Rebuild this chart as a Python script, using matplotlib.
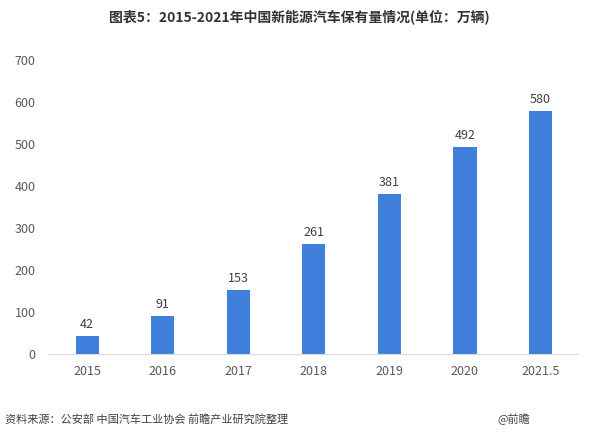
import matplotlib
matplotlib.use("Agg")
import matplotlib.pyplot as plt

plt.rcParams['font.family'] = ['Noto Sans CJK SC', 'DejaVu Sans']

categories = ["2015", "2016", "2017", "2018", "2019", "2020", "2021.5"]
values = [42, 91, 153, 261, 381, 492, 580]
yticks = [0, 100, 200, 300, 400, 500, 600, 700]

fig = plt.figure(figsize=(5.96, 4.36), dpi=100)
ax = fig.add_axes([0.083, 0.188, 0.887, 0.674])

x = range(len(categories))
bars = ax.bar(x, values, width=0.31, color="#3F80DC", zorder=2)
for xi, v in zip(x, values):
    ax.text(xi, v + 12, str(v), ha="center", va="bottom", fontsize=9, color="#404040")

ax.set_xlim(-0.5, len(categories) - 0.5)
ax.set_ylim(0, 700)
ax.set_yticks(yticks)
ax.set_xticks(list(x))
ax.set_xticklabels(categories)
ax.tick_params(axis="both", length=0, labelsize=9, colors="#595959")
ax.tick_params(axis="x", pad=8)
ax.tick_params(axis="y", pad=10)
for s in ["top", "right", "left"]:
    ax.spines[s].set_visible(False)
ax.spines["bottom"].set_color("#D9D9D9")

fig.text(0.503, 0.962, "图表5：2015-2021年中国新能源汽车保有量情况(单位：万辆)",
         ha="center", va="center", fontsize=10, fontweight="bold", color="#333333")
fig.text(0.008, 0.039, "资料来源：公安部 中国汽车工业协会 前瞻产业研究院整理",
         ha="left", va="center", fontsize=8, color="#404040")
fig.text(0.835, 0.039, "@前瞻", ha="left", va="center", fontsize=8, color="#404040")

fig.savefig("out.png", dpi=100)
